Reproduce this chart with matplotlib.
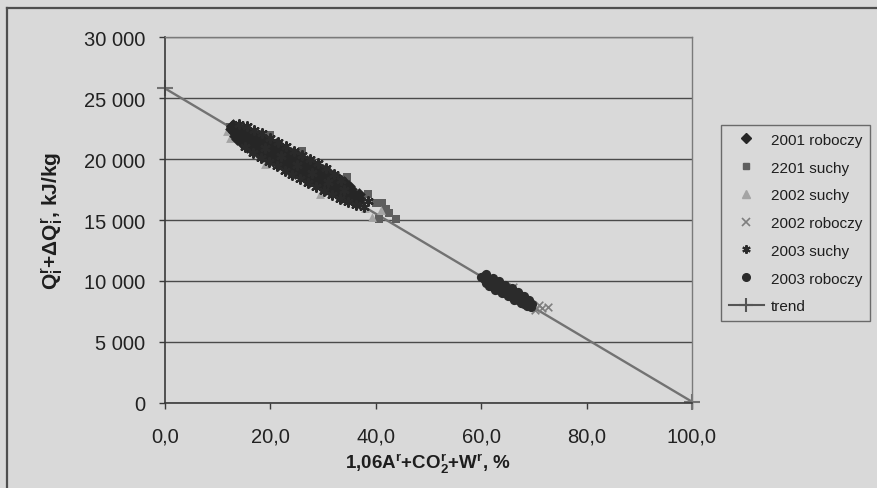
import matplotlib
matplotlib.use("Agg")
import matplotlib.pyplot as plt
from matplotlib.lines import Line2D
from matplotlib.ticker import FuncFormatter

plt.rcParams['font.family'] = ['Liberation Sans', 'DejaVu Sans']
plt.rcParams['mathtext.fontset'] = 'custom'
plt.rcParams['mathtext.rm'] = 'Liberation Sans:bold'
plt.rcParams['mathtext.bf'] = 'Liberation Sans:bold'
plt.rcParams['mathtext.it'] = 'Liberation Sans:bold'

# ---------------- data ----------------
# 2001 roboczy (diamonds) - bands of the dense cluster
r2001_x = [12.5, 13.2, 13.9, 14.6, 15.3, 16.0, 16.7, 17.4, 18.1, 18.8, 19.5, 20.2,
           20.9, 21.6, 22.3, 23.0, 23.7, 24.4, 25.1, 25.8, 26.5, 27.2, 27.9, 28.6,
           29.3, 30.0, 30.7, 31.4, 32.1, 32.8, 33.5, 34.2, 34.9, 35.6, 36.3, 37.0,
           13.0, 14.0, 15.0, 16.0, 17.0, 18.0, 19.0, 20.0, 21.0, 22.0, 23.0, 24.0,
           25.0, 26.0, 27.0, 28.0, 29.0, 30.0, 31.0, 32.0, 33.0, 34.0, 35.0,
           13.6, 14.6, 15.6, 16.6, 17.6, 18.6, 19.6, 20.6, 21.6, 22.6, 23.6, 24.6,
           25.6, 26.6, 27.6, 28.6, 29.6, 30.6, 31.6, 32.6, 33.6, 34.6, 35.6, 36.6,
           12.8, 14.3, 15.8, 17.3, 18.8, 20.3, 21.8, 23.3, 24.8, 26.3, 27.8, 29.3,
           30.8, 32.3, 33.8, 35.3, 36.8,
           13.3, 14.8, 16.3, 17.8, 19.3, 20.8, 22.3, 23.8, 25.3, 26.8, 28.3, 29.8,
           31.3, 32.8, 34.3, 35.8]
r2001_y = [22450, 22200, 22150, 21880, 21820, 21560, 21500, 21240, 21180, 20920, 20860, 20600,
           20540, 20280, 20220, 19960, 19900, 19640, 19580, 19320, 19260, 19000, 18940, 18680,
           18610, 18360, 18300, 18040, 17980, 17720, 17650, 17400, 17330, 17080, 17010, 16760,
           22800, 22620, 22450, 22300, 22120, 21900, 21680, 21450, 21220, 21000, 20760, 20530,
           20300, 20070, 19840, 19610, 19380, 19140, 18900, 18650, 18380, 18100, 17800,
           21650, 21300, 21000, 20750, 20500, 20270, 20040, 19810, 19580, 19350, 19120, 18890,
           18660, 18430, 18200, 17980, 17750, 17520, 17300, 17100, 16900, 16750, 16600, 16450,
           22700, 22400, 22050, 21700, 21350, 21000, 20660, 20320, 19980, 19640, 19290, 18950,
           18600, 18250, 17900, 17550, 17150,
           21900, 21500, 21150, 20800, 20480, 20130, 19790, 19450, 19100, 18760, 18420, 18070,
           17730, 17400, 17050, 16750]

# 2201 suchy (squares)
s2201_x = [12.3, 20.0, 26.0, 34.5, 38.5, 40.0, 41.2, 42.0, 42.5, 43.9, 40.6, 36.5]
s2201_y = [22650, 21950, 20700, 18500, 17100, 16400, 16400, 15900, 15600, 15050, 15100, 17000]

# 2002 suchy (triangles)
s2002_x = [11.8, 12.3, 19.0, 29.5, 39.3, 41.0, 38.0, 13.5, 24.0]
s2002_y = [22300, 21700, 19600, 17100, 15250, 15800, 16000, 22900, 19000]

# 2002 roboczy (x)
r2002_x = [70.3, 70.9, 71.5, 72.6, 60.5, 64.0, 68.0, 66.0]
r2002_y = [7650, 8070, 7800, 7890, 10300, 9100, 8200, 9500]

# 2003 suchy (stars)
s2003_x = [14.0, 15.5, 17.0, 18.5, 20.0, 21.5, 23.0, 24.5, 26.0, 27.5, 29.0, 30.5, 32.0, 33.5,
           15.2, 16.7, 18.2, 19.7, 21.2, 22.7, 24.2, 25.7, 27.2, 28.7, 30.2, 31.7, 33.2, 34.7,
           36.2, 37.7, 19.0, 22.0, 25.0, 28.0, 31.0, 34.0, 38.5]
s2003_y = [22900, 22700, 22400, 22100, 21750, 21400, 21050, 20700, 20350, 20000, 19650, 19250, 18800, 18300,
           21000, 20500, 20100, 19750, 19400, 19050, 18700, 18350, 18000, 17700, 17350, 17050, 16750, 16500,
           16250, 16050, 20900, 20250, 19550, 18850, 18150, 17500, 16600]

# 2003 roboczy (circles)
r2003_x = [60.0, 60.8, 61.6, 62.4, 63.2, 64.0, 64.8, 65.6, 66.4, 67.2, 68.0, 68.8, 69.6,
           61.0, 62.2, 63.4, 64.6, 65.8, 67.0, 68.2,
           61.5, 62.7, 63.9, 65.1, 66.3, 67.5, 68.7,
           60.4, 61.2, 62.0, 62.8, 63.6, 64.4, 65.2, 66.0, 66.8, 67.6, 68.4, 69.2,
           60.6, 61.8, 63.0, 64.2, 65.4, 66.6, 67.8, 69.0,
           61.0, 62.2, 63.4, 64.6, 65.8, 67.0, 68.2, 69.4]
r2003_y = [10300, 10120, 9930, 9740, 9560, 9370, 9190, 9000, 8820, 8630, 8450, 8260, 8080,
           10550, 10250, 9980, 9700, 9420, 9130, 8800,
           9550, 9300, 9020, 8750, 8480, 8200, 7950,
           10210, 10020, 9840, 9650, 9470, 9280, 9100, 8910, 8730, 8540, 8360, 8170,
           10420, 10140, 9850, 9580, 9300, 9030, 8750, 8470,
           9820, 9540, 9260, 8980, 8710, 8430, 8150, 7870]

# trend line
trend_x = [0, 100]
trend_y = [25800, 100]

x_ticks = [0, 20, 40, 60, 80, 100]
y_ticks = [0, 5000, 10000, 15000, 20000, 25000, 30000]

# ---------------- figure ----------------
BG = '#d9d9d9'
fig = plt.figure(figsize=(8.77, 4.89), dpi=100, facecolor=BG)
ax = fig.add_axes([0.188, 0.174, 0.601, 0.748])
ax.set_facecolor(BG)

ax.set_xlim(0, 100)
ax.set_ylim(0, 30000)
ax.set_xticks(x_ticks)
ax.set_yticks(y_ticks)
ax.xaxis.set_major_formatter(FuncFormatter(lambda v, p: f"{v:.1f}".replace(".", ",")))
ax.yaxis.set_major_formatter(FuncFormatter(lambda v, p: f"{v:,.0f}".replace(",", " ")))
ax.grid(axis='y', color='#4a4a4a', lw=1.0, zorder=0)
ax.set_axisbelow(True)

for side in ['top', 'right']:
    ax.spines[side].set_color('#7a7a7a')
    ax.spines[side].set_linewidth(1.0)
for side in ['left', 'bottom']:
    ax.spines[side].set_color('#3a3a3a')
    ax.spines[side].set_linewidth(1.2)

ax.tick_params(axis='both', direction='out', length=4, width=1, color='#3a3a3a',
               labelsize=14.5, labelcolor='#222222')
ax.tick_params(axis='x', pad=13)
ax.tick_params(axis='y', pad=10)

ax.plot(trend_x, trend_y, color='#727272', lw=1.7, marker='+', markersize=11,
        markeredgewidth=1.5, label='trend', zorder=2, clip_on=False)

ax.scatter(r2001_x, r2001_y, marker='D', s=42, color='#262626', lw=0, zorder=3, label='2001 roboczy')
ax.scatter(s2201_x, s2201_y, marker='s', s=34, color='#5e5e5e', lw=0, zorder=2.5, label='2201 suchy')
ax.scatter(s2002_x, s2002_y, marker='^', s=40, color='#a4a4a4', lw=0, zorder=2.5, label='2002 suchy')
ax.scatter(r2002_x, r2002_y, marker='x', s=30, color='#7e7e7e', lw=1.2, zorder=2.5, label='2002 roboczy')
ax.scatter(s2003_x, s2003_y, marker=(6, 2, 0), s=40, color='#2a2a2a', lw=1.6, zorder=3, label='2003 suchy')
ax.scatter(r2003_x, r2003_y, marker='o', s=44, color='#2b2b2b', lw=0, zorder=3, label='2003 roboczy')

ax.set_ylabel(r'Q$_{i}^{r}$+ΔQ$_{i}^{r}$, kJ/kg', fontsize=15, fontweight='bold',
              color='#1e1e1e', labelpad=14)
ax.set_xlabel(r'1,06A$^{r}$+CO$_{2}^{r}$+W$^{r}$, %', fontsize=13.5, fontweight='bold',
              color='#1e1e1e', labelpad=4)

# legend (order as in reference)
handles = [
    Line2D([], [], ls='none', marker='D', ms=5, color='#262626'),
    Line2D([], [], ls='none', marker='s', ms=5, color='#5e5e5e'),
    Line2D([], [], ls='none', marker='^', ms=5.5, color='#a4a4a4'),
    Line2D([], [], ls='none', marker='x', ms=5.5, mew=1.2, color='#7e7e7e'),
    Line2D([], [], ls='none', marker=(6, 2, 0), ms=6, mew=1.5, color='#2a2a2a'),
    Line2D([], [], ls='none', marker='o', ms=5.5, color='#2b2b2b'),
    Line2D([], [], ls='-', lw=1.5, marker='+', ms=10, mew=1.5, color='#555555'),
]
labels = ['2001 roboczy', '2201 suchy', '2002 suchy', '2002 roboczy',
          '2003 suchy', '2003 roboczy', 'trend']
leg = fig.legend(handles, labels, loc='upper left', bbox_to_anchor=(0.822, 0.742),
                 fontsize=11, frameon=True, fancybox=False, framealpha=1,
                 facecolor=BG, edgecolor='#6a6a6a', labelspacing=0.9,
                 handlelength=2.3, handletextpad=0.5, borderpad=0.5, borderaxespad=0)
leg.get_frame().set_linewidth(1.0)
for t in leg.get_texts():
    t.set_color('#1e1e1e')

# outer frame of the chart (top and left edges)
fig.add_artist(Line2D([0.008, 1.0], [0.982, 0.982], transform=fig.transFigure,
                      color='#4e4e4e', lw=1.6))
fig.add_artist(Line2D([0.008, 0.008], [0.0, 0.982], transform=fig.transFigure,
                      color='#4e4e4e', lw=1.6))

fig.savefig('out.png', dpi=100, facecolor=BG)
